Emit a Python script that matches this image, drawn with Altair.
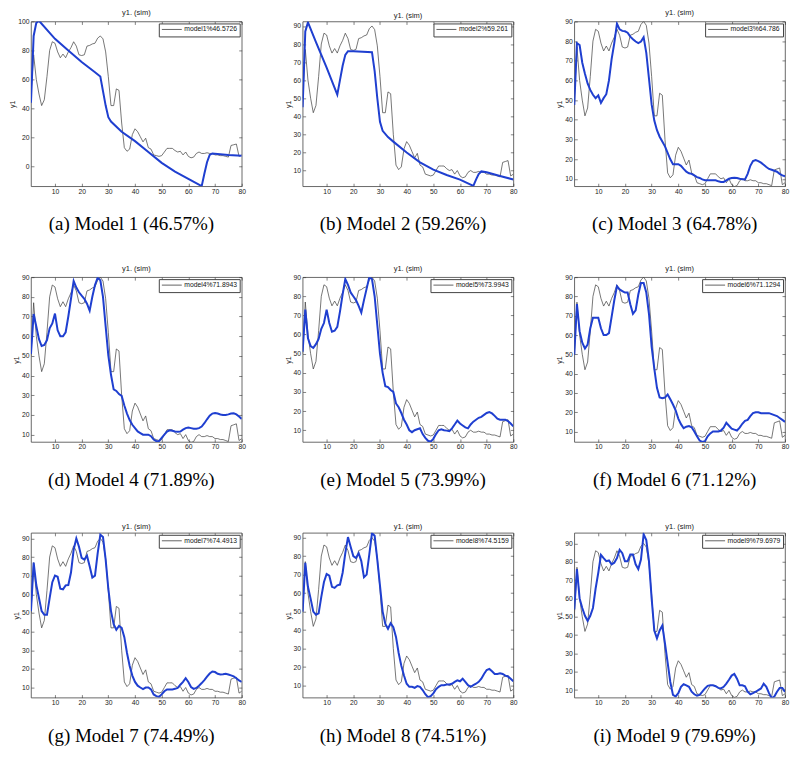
import altair as alt
import pandas as pd

# ---------------- data ----------------
x_idx = list(range(1, 81))
x_ticks = [10, 20, 30, 40, 50, 60, 70, 80]

measured = [50, 77, 60, 50, 42, 46, 62, 80, 86, 85,
            79, 75, 77.5, 75, 79, 82, 86, 83, 77, 76.5,
            77, 83, 83.5, 84.5, 85, 88.5, 90, 88, 79, 62,
            42, 42, 53.5, 52.5, 30, 13, 10.5, 12, 22, 26,
            24, 20.5, 17, 19.5, 13, 12, 8, 7.5, 7, 7.5,
            10, 12.5, 12.5, 12.5, 11, 10, 10.5, 8, 10, 7,
            6, 6.5, 9, 10, 9, 9, 9.5, 9, 9, 8,
            8, 7.5, 7.5, 7, 6.5, 14.5, 15, 15.5, 7, 8]

m1_x = [1, 2, 3, 4, 10, 15, 20, 25, 27, 28, 29, 30, 31, 35, 40, 45, 50, 55, 60, 65, 66, 67, 68, 69, 75, 80]
m1_y = [44, 90, 99, 100.5, 88, 80, 72, 65, 62, 52, 42, 34, 31, 24, 17.5, 10, 2.5, -3.5, -8.5, -13.5, -5, 3, 8, 9, 8, 7.5]

m2_x = [1, 2, 3, 6, 10, 14, 15, 16, 17, 18, 20, 27, 28, 29, 30, 31, 33, 35, 40, 45, 50, 55, 60, 65, 66, 67, 68, 70, 75, 80]
m2_y = [45, 87, 92, 81, 67, 52, 60, 68, 74, 76, 76, 75.5, 65, 50, 37, 32, 28.5, 26, 20, 14.5, 10.5, 7.5, 5, 1.5, 5, 8, 9.5, 9, 7, 5]

m3_y = [47.5, 79, 78, 69, 63.4, 58.5, 55.2, 52.7, 51, 52.4,
        48.6, 51, 53, 60, 70.8, 79, 88.9, 86, 85.2, 85,
        84.3, 82.3, 81, 79.8, 79, 79.8, 82, 74, 61, 47.8,
        39.6, 34.7, 31.4, 29, 26.5, 23.2, 19.9, 17.4, 17.4, 17.4,
        16.6, 15, 13.6, 12.8, 12.5, 11.7, 10.8, 10.4, 9.7, 9.3,
        9.3, 9.3, 9.2, 9.2, 8.7, 8.4, 8.4, 9.2, 10, 10.4,
        10.5, 10.4, 10, 9.8, 9.7, 12.5, 16.6, 19, 19.5, 19,
        18.2, 17.1, 16, 15, 14.6, 14.1, 13.6, 12.5, 11.7, 11.3]

m4_y = [51, 71.3, 65, 58.5, 55, 55.5, 58, 64, 66.5, 71.5,
        63, 60, 60, 62, 70, 79, 88, 84.7, 82.3, 80.6,
        79, 76.5, 73, 80, 86, 89.7, 88.4, 80, 65, 50.3,
        40.4, 33, 32.2, 30.6, 29.7, 24.8, 20.7, 17.4, 15, 13.3,
        11.6, 10.8, 10, 10, 10, 9.2, 7.5, 6.7, 6.7, 8.4,
        10, 11.6, 12.2, 12, 11.6, 11.5, 11.6, 12.5, 13.3, 13.6,
        13.3, 13, 13, 13.3, 14.1, 15.8, 17.8, 19.6, 20.7, 21,
        20.7, 20.2, 20, 20, 20.3, 20.7, 20.8, 20.3, 19.2, 18]

m5_y = [51, 73, 58, 54, 53, 55, 57.7, 63, 66, 73,
        66, 61.5, 62, 64, 72, 81, 89, 86, 82, 80,
        78, 75, 71.5, 78, 84, 90, 89, 80, 65, 50,
        40, 33, 32.5, 31, 30, 24, 22, 19, 15.5, 13,
        10, 9, 10, 10.5, 11, 8, 6, 4.5, 4, 5.5,
        8, 10, 10.5, 10, 9.8, 9.5, 11, 13, 15, 13.5,
        12.5, 11.5, 11, 13, 14.5, 15.5, 16.5, 17, 18, 19,
        19.5, 18.8, 17.5, 16, 15.5, 15.5, 15.5, 14.8, 13.5, 12]

m6_y = [49.8, 76, 62, 56, 53, 55, 63.5, 69, 69, 69,
        63.5, 60, 60, 61, 69.4, 78, 85.3, 83.6, 82.8, 82,
        82, 76, 71, 72.8, 81, 87, 87, 82, 71, 54,
        42.6, 32.6, 27.6, 27.2, 27.6, 29.2, 26.7, 24, 21, 16.7,
        13.8, 11.7, 12.5, 12.8, 12.2, 10, 7.5, 5.3, 4.6, 5,
        7.5, 9, 10, 10, 10, 10.5, 12, 14.5, 13, 11.5,
        11, 10.5, 12, 14, 15.5, 16, 18, 19.5, 20, 20,
        19.5, 19.5, 19.5, 19.5, 19, 18.5, 18, 17, 16, 15]

m7_y = [51, 77, 65, 58, 51, 49, 49, 58, 66.5, 70,
        69.4, 63, 62.7, 64.8, 65, 71.7, 84, 90, 85.5, 79.5,
        78.6, 80.7, 75, 69, 70, 82, 92, 90.7, 78.6, 63,
        51, 44, 41, 43, 42, 37, 28.5, 21.6, 16.4, 13,
        11, 10, 9.2, 10, 10, 9, 6.3, 5.4, 5, 6.3,
        8, 9, 9, 9, 9.3, 9.8, 11.5, 13, 15, 13,
        10.3, 9.3, 9.8, 11, 12.4, 14, 15.8, 17.5, 18.6, 18.3,
        17.4, 17, 17.1, 17.4, 17, 16.5, 16, 15, 13.8, 13]

m8_y = [50, 76.4, 63.4, 57, 50, 48.3, 49, 58, 66, 70.3,
        69.4, 63.4, 62.8, 64.2, 64.6, 71, 81.6, 90.3, 85, 80,
        79, 81.6, 77.3, 68.6, 70, 81, 92.4, 91, 78, 64,
        50, 43.3, 40.7, 43.7, 41.6, 36.3, 27.6, 20.7, 15.4, 11,
        9.3, 9.3, 8.8, 9.7, 9.3, 7.6, 5.3, 3.7, 4.3, 5.8,
        8, 9.3, 10.2, 10.2, 10.6, 10.6, 11, 12, 12.8, 12.3,
        13.7, 12, 10.2, 9.3, 10.2, 11, 12, 13.7, 16.3, 18.4,
        19, 17.7, 16.3, 16.3, 16.6, 16.3, 15.4, 14.9, 13.7, 12.3]

m9_y = [54, 76, 60, 54.8, 50.5, 47.8, 50.5, 54.8, 65.4, 74,
        83.8, 82, 80.3, 80.7, 78.6, 79.5, 82, 86.5, 84.7, 80.3,
        80.3, 84, 84, 78.6, 76, 81.2, 95, 91.8, 80.3, 60,
        42.5, 38.2, 42.5, 45.2, 35.5, 25, 14.4, 7.4, 6.5, 8.3,
        11.8, 13.2, 12.6, 11.8, 9.1, 7.7, 7, 7.4, 9.1, 10.9,
        12.3, 12.6, 12.6, 12.1, 11.2, 10.9, 11.8, 13.5, 15.6, 17.9,
        18.8, 16.2, 12.6, 12.6, 12.1, 9.1, 7.7, 8.3, 9.1, 10,
        10.9, 13.5, 11.8, 8.3, 5.6, 6.5, 9.1, 11.2, 11.2, 9]

model_x = [m1_x, m2_x, x_idx, x_idx, x_idx, x_idx, x_idx, x_idx, x_idx]
model_y = [m1_y, m2_y, m3_y, m4_y, m5_y, m6_y, m7_y, m8_y, m9_y]

legend_labels = ["model1%46.5726", "model2%59.261", "model3%64.786",
                 "model4%71.8943", "model5%73.9943", "model6%71.1294",
                 "model7%74.4913", "model8%74.5159", "model9%79.6979"]
captions = ["(a) Model 1 (46.57%)", "(b) Model 2 (59.26%)", "(c) Model 3 (64.78%)",
            "(d) Model 4 (71.89%)", "(e) Model 5 (73.99%)", "(f) Model 6 (71.12%)",
            "(g) Model 7 (74.49%)", "(h) Model 8 (74.51%)", "(i) Model 9 (79.69%)"]
y_domains = [[-13.6, 100], [1.3, 92.5], [6.2, 90],
             [6.3, 90], [3.9, 90], [4.6, 90],
             [4.6, 93], [3.5, 92.6], [5.9, 95.8]]
ticks_10_90 = [10, 20, 30, 40, 50, 60, 70, 80, 90]
y_ticks = [[0, 20, 40, 60, 80, 100]] + [ticks_10_90] * 8

# ---------------- style ----------------
W, H = 211, 165
BLUE = "#1f3fd0"
GRAY = "#3c3c3c"
SANS = "Liberation Sans"
AX = dict(domain=False, grid=False, tickSize=3, offset=-3, tickColor="#333",
          tickWidth=0.6, labelFontSize=6.8, labelColor="#222", labelFont=SANS,
          labelPadding=2, labelFlush=False, labelOverlap=False)


def panel(k):
    meas = pd.DataFrame({"x": x_idx, "y": measured, "s": legend_labels[k]})
    mod = pd.DataFrame({"x": model_x[k], "y": model_y[k]})
    xs = alt.Scale(domain=[1, 80], nice=False, zero=False)
    ys = alt.Scale(domain=y_domains[k], nice=False, zero=False)

    gray = alt.Chart(meas).mark_line(strokeWidth=0.7, clip=True).encode(
        x=alt.X("x:Q", scale=xs,
                axis=alt.Axis(values=x_ticks, title=None, orient="bottom", **AX)),
        y=alt.Y("y:Q", scale=ys,
                axis=alt.Axis(values=y_ticks[k], title="y1", orient="left",
                              titleFontSize=7, titleFontWeight="normal",
                              titlePadding=2, titleColor="#222", titleFont=SANS, **AX)),
        color=alt.Color("s:N", scale=alt.Scale(range=[GRAY]),
                        legend=alt.Legend(title=None, orient="top-right", offset=2,
                                          padding=2.5, strokeColor="#444",
                                          fillColor="white", symbolType="stroke",
                                          symbolSize=400, symbolStrokeWidth=0.8,
                                          clipHeight=7, labelFontSize=6.8,
                                          labelFont=SANS, labelColor="#111",
                                          labelOffset=2, cornerRadius=0)),
    )
    blue = alt.Chart(mod).mark_line(strokeWidth=2, color=BLUE, clip=True).encode(
        x=alt.X("x:Q", scale=xs,
                axis=alt.Axis(values=x_ticks, title=None, orient="top", labels=False, **AX)),
        y=alt.Y("y:Q", scale=ys,
                axis=alt.Axis(values=y_ticks[k], title=None, orient="right", labels=False, **AX)),
    )
    cap = alt.Chart(pd.DataFrame({"c": [captions[k]]})).mark_text(
        font="Liberation Serif", fontSize=19, color="black",
        align="center", baseline="alphabetic"
    ).encode(x=alt.value(W / 2 - 5), y=alt.value(H + 44), text="c:N")

    return alt.layer(gray, blue, cap).resolve_axis(
        x="independent", y="independent"
    ).properties(
        width=W, height=H,
        title=alt.TitleParams("y1. (sim)", fontSize=7.5, fontWeight="normal",
                              font=SANS, color="#222", offset=2, anchor="middle"),
    )


chart = alt.concat(
    *[panel(k) for k in range(9)],
    columns=3, spacing={"row": 91, "column": 61}, bounds="flush",
).resolve_scale(
    x="independent", y="independent", color="independent"
).configure_view(
    stroke="#444", strokeWidth=0.8
).properties(
    padding=0, background="white"
)

chart.save("out.html", embed_options={"renderer": "svg", "actions": False})
